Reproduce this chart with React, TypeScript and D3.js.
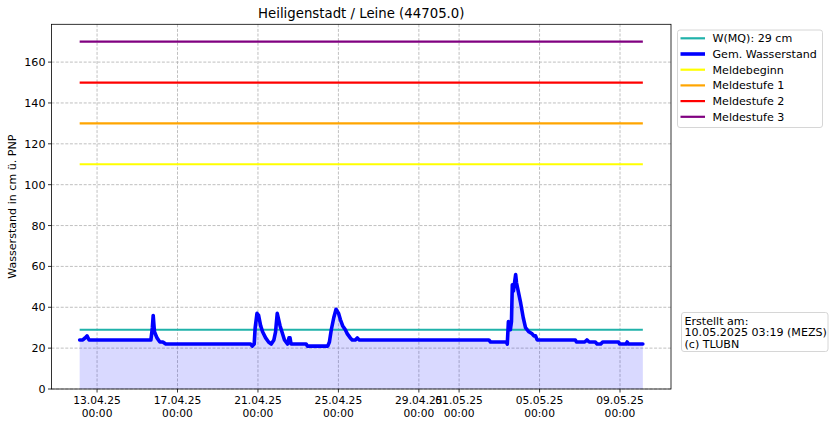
import React from "react";
import * as d3 from "d3";

const levelTimes: string[] = [
  "2025-04-12T03:15","2025-04-12T07:00","2025-04-12T09:45","2025-04-12T12:00","2025-04-12T14:30",
  "2025-04-15T16:15","2025-04-15T18:00","2025-04-15T19:00","2025-04-15T20:30","2025-04-15T23:30",
  "2025-04-16T03:00","2025-04-16T06:30","2025-04-16T10:00","2025-04-20T15:15","2025-04-20T17:15",
  "2025-04-20T19:30","2025-04-20T20:40","2025-04-20T22:50","2025-04-21T00:45","2025-04-21T03:10",
  "2025-04-21T05:30","2025-04-21T09:10","2025-04-21T12:40","2025-04-21T15:50","2025-04-21T19:00",
  "2025-04-21T21:00","2025-04-21T23:00","2025-04-22T02:20","2025-04-22T05:20","2025-04-22T07:40",
  "2025-04-22T11:15","2025-04-22T13:00","2025-04-22T14:15","2025-04-22T15:30","2025-04-23T09:30",
  "2025-04-23T11:00","2025-04-24T11:15","2025-04-24T13:15","2025-04-24T15:30","2025-04-24T18:30",
  "2025-04-24T21:10","2025-04-25T00:15","2025-04-25T02:20","2025-04-25T05:00","2025-04-25T08:15",
  "2025-04-25T10:40","2025-04-25T14:10","2025-04-25T16:30","2025-04-25T20:10","2025-04-25T22:30",
  "2025-04-26T01:00","2025-05-02T11:30","2025-05-02T13:30","2025-05-03T08:30","2025-05-03T09:30",
  "2025-05-03T10:50","2025-05-03T13:10","2025-05-03T14:30","2025-05-03T15:30","2025-05-03T16:50",
  "2025-05-03T19:30","2025-05-03T20:30","2025-05-03T22:30","2025-05-04T01:30","2025-05-04T04:30",
  "2025-05-04T07:15","2025-05-04T11:15","2025-05-04T15:10","2025-05-04T17:15","2025-05-04T19:15",
  "2025-05-04T21:10","2025-05-06T18:45","2025-05-06T20:00","2025-05-07T05:50","2025-05-07T08:30",
  "2025-05-07T11:15","2025-05-07T18:30","2025-05-07T20:40","2025-05-08T01:00","2025-05-08T03:20",
  "2025-05-08T22:20","2025-05-08T23:30","2025-05-09T07:10","2025-05-09T08:30","2025-05-09T10:00",
  "2025-05-10T03:15",
];
const levelValues: number[] = [
  24,24,25,26,24,
  24,30,36,28,25,
  23,23,22,22,21,
  22,30,37,36,31,
  28,25,23,22,24,
  28,37,31,27,24,
  22,25,25,22,22,
  21,21,23,29,35,
  39,37,34,31,29,
  27,25,24,24,25,
  24,24,23,23,22,
  33,29,33,51,48,
  56,52,48,42,35,
  30,28,27,26,26,
  24,24,23,23,24,
  23,23,22,22,23,
  23,22,22,23,22,
  22,
];

const thresholdValues: number[] = [29, 110, 130, 150, 170];
const thresholdColors: string[] = ["#20b2aa", "#ffff00", "#ffa500", "#ff0000", "#800080"];

const legendNames: string[] = ["W(MQ): 29 cm", "Gem. Wasserstand", "Meldebeginn", "Meldestufe 1", "Meldestufe 2", "Meldestufe 3"];
const legendColors: string[] = ["#20b2aa", "#0000ff", "#ffff00", "#ffa500", "#ff0000", "#800080"];

const xTickDates: string[] = [
  "2025-04-13T00:00","2025-04-17T00:00","2025-04-21T00:00","2025-04-25T00:00",
  "2025-04-29T00:00","2025-05-01T00:00","2025-05-05T00:00","2025-05-09T00:00",
];
const yTicks: number[] = [0, 20, 40, 60, 80, 100, 120, 140, 160];

const titleText = "Heiligenstadt / Leine (44705.0)";
const yLabel = "Wasserstand in cm ü. PNP";
const noteLines: string[] = ["Erstellt am:", "10.05.2025 03:19 (MEZS)", "(c) TLUBN"];

const W = 834, H = 426;
const left = 51.5, right = 671, top = 24.3, bottom = 389;
const FONT = "DejaVu Sans, sans-serif";

export default function App() {
  const data = levelTimes.map((t, i) => ({ t: new Date(t), v: levelValues[i] }));
  const t0 = data[0].t.getTime();
  const t1 = data[data.length - 1].t.getTime();
  const pad = (t1 - t0) * 0.05;
  const x = d3.scaleTime().domain([new Date(t0 - pad), new Date(t1 + pad)]).range([left, right]);
  const y = d3.scaleLinear().domain([0, 170 * 1.05]).range([bottom, top]);

  const line = d3.line<{ t: Date; v: number }>().x((d) => x(d.t)).y((d) => y(d.v));
  const area = d3.area<{ t: Date; v: number }>().x((d) => x(d.t)).y0(y(0)).y1((d) => y(d.v));

  const fmtDate = d3.timeFormat("%d.%m.%y");
  const fmtTime = d3.timeFormat("%H:%M");
  const xTicks = xTickDates.map((s) => new Date(s));

  const fs = 11.1;
  const xfs = 10.7;
  const legX = 677.5, legY = 30, legW = 145, legH = 97.5;
  const rowH = 15.7;

  return (
    <svg width={W} height={H} style={{ position: "absolute", left: 0, top: 0, background: "#fff" }} fontFamily={FONT}>
      <rect x={0} y={0} width={W} height={H} fill="#fff" />
      <g stroke="#b0b0b0" strokeWidth={0.8} strokeDasharray="3,1.6">
        {xTicks.map((d, i) => (
          <line key={"gx" + i} x1={x(d)} x2={x(d)} y1={top} y2={bottom} />
        ))}
        {yTicks.map((v, i) => (
          <line key={"gy" + i} x1={left} x2={right} y1={y(v)} y2={y(v)} />
        ))}
      </g>
      <path d={area(data) || ""} fill="#0000ff" fillOpacity={0.15} stroke="none" />
      {thresholdValues.map((v, i) => (
        <line key={"th" + i} x1={x(new Date(t0))} x2={x(new Date(t1))} y1={y(v)} y2={y(v)}
          stroke={thresholdColors[i]} strokeWidth={2.2} />
      ))}
      <path d={line(data) || ""} fill="none" stroke="#0000ff" strokeWidth={3.6} strokeLinejoin="round" strokeLinecap="round" />
      <rect x={left} y={top} width={right - left} height={bottom - top} fill="none" stroke="#000" strokeWidth={0.8} />
      {xTicks.map((d, i) => (
        <g key={"xt" + i} transform={`translate(${x(d)},${bottom})`}>
          <line y1={0} y2={3.5} stroke="#000" strokeWidth={0.8} />
          <text y={15.3} textAnchor="middle" fontSize={xfs} fill="#000">{fmtDate(d)}</text>
          <text y={27.8} textAnchor="middle" fontSize={xfs} fill="#000">{fmtTime(d)}</text>
        </g>
      ))}
      {yTicks.map((v, i) => (
        <g key={"yt" + i} transform={`translate(${left},${y(v)})`}>
          <line x1={0} x2={-3.5} stroke="#000" strokeWidth={0.8} />
          <text x={-6} dy="0.36em" textAnchor="end" fontSize={fs} fill="#000">{v}</text>
        </g>
      ))}
      <text transform={`translate(15.5,${(top + bottom) / 2}) rotate(-90)`} textAnchor="middle" fontSize={fs} fill="#000">{yLabel}</text>
      <text x={(left + right) / 2} y={18} textAnchor="middle" fontSize={13.3} fill="#000">{titleText}</text>
      <rect x={legX} y={legY} width={legW} height={legH} rx={2.5} fill="#fff" fillOpacity={0.8} stroke="#cccccc" strokeWidth={0.8} />
      {legendNames.map((n, i) => {
        const cy = legY + 8.3 + i * rowH;
        return (
          <g key={"lg" + i}>
            <line x1={680.5} x2={705} y1={cy} y2={cy} stroke={legendColors[i]} strokeWidth={i === 1 ? 3.6 : 2.2} />
            <text x={712.5} y={cy} dy="0.36em" fontSize={fs} fill="#000">{n}</text>
          </g>
        );
      })}
      <rect x={681.5} y={312.5} width={146.5} height={39} rx={2.5} fill="#fff" stroke="#cccccc" strokeWidth={0.8} />
      <text fontSize={fs} fill="#000">
        {noteLines.map((s, i) => (
          <tspan key={"nt" + i} x={684.5} y={324.7 + i * 11.7}>{s}</tspan>
        ))}
      </text>
    </svg>
  );
}
